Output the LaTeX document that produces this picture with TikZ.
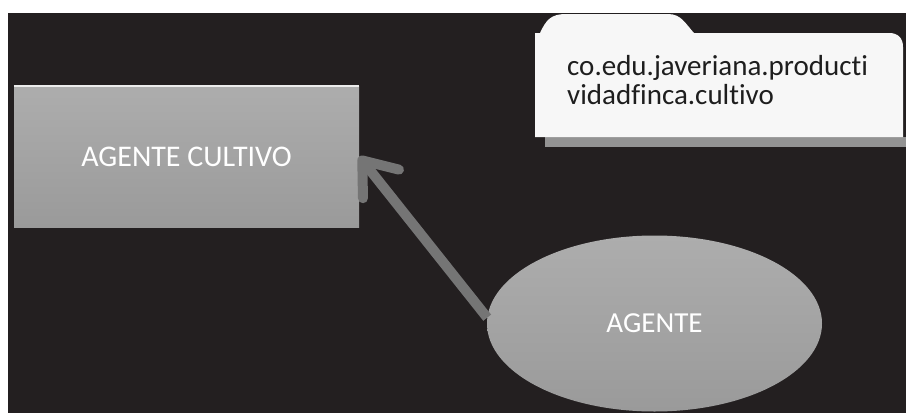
\documentclass[tikz,border=0pt]{standalone}
\usepackage{fontspec}
\setmainfont{Carlito}[Ligatures=NoCommon]
\usetikzlibrary{arrows.meta,shapes.geometric}
\definecolor{bgdark}{HTML}{231F20}
\definecolor{boxgray}{HTML}{A4A4A4}
\definecolor{boxgraytop}{HTML}{ADADAD}
\definecolor{boxgraydark}{HTML}{9A9A9A}
\definecolor{arrowgray}{HTML}{757575}
\definecolor{notetext}{HTML}{1E1E1E}
\tikzset{
  agentbox/.style={rectangle, minimum width=345pt, minimum height=141pt,
    top color=boxgraytop, bottom color=boxgraydark,
    text=white, font=\fontsize{30}{32}\selectfont},
  agentoval/.style={ellipse, minimum width=335pt, minimum height=176pt, inner sep=0pt,
    top color=boxgraytop, bottom color=boxgraydark,
    text=white, font=\fontsize{29}{31}\selectfont},
  notetxt/.style={align=left, inner sep=0pt, text=notetext,
    font=\fontsize{29}{29}\selectfont},
  linkarrow/.style={draw=arrowgray, line width=10pt, line cap=butt,
    -{Straight Barb[length=30pt, width=46pt, line cap=round, line join=round]}}
}
\begin{document}
\begin{tikzpicture}[x=1pt, y=-1pt]
\useasboundingbox (0,0) rectangle (906,413);
% dark slide background
\fill[bgdark] (8,13) rectangle (906,413);
% note: drop shadow, then the tabbed white body
\fill[gray!85] (545,137) rectangle (906,147);
\fill[white!97!black] (535,137) -- (535,33) -- (540,33)
  .. controls (546,20) and (551,14) .. (566,14) -- (668,14)
  .. controls (681,14) and (685,23) .. (694,33) -- (889,33)
  .. controls (898,33) and (903,38) .. (903,47) -- (903,137) -- cycle;
\node[notetxt, anchor=base west] (note) at (567,104)
  {co.edu.javeriana.producti\\vidadfinca.cultivo};
% agents
\node[agentbox] (cultivo) at (186.5,156.5) {AGENTE CULTIVO};
\draw[white!85!gray, line width=1.5pt] (cultivo.north west) -- (cultivo.north east);
\node[agentoval] (agente) at (654.5,323.5) {AGENTE};
% link between the two agents
\draw[linkarrow] (agente.178) -- (cultivo.east);
\end{tikzpicture}
\end{document}
